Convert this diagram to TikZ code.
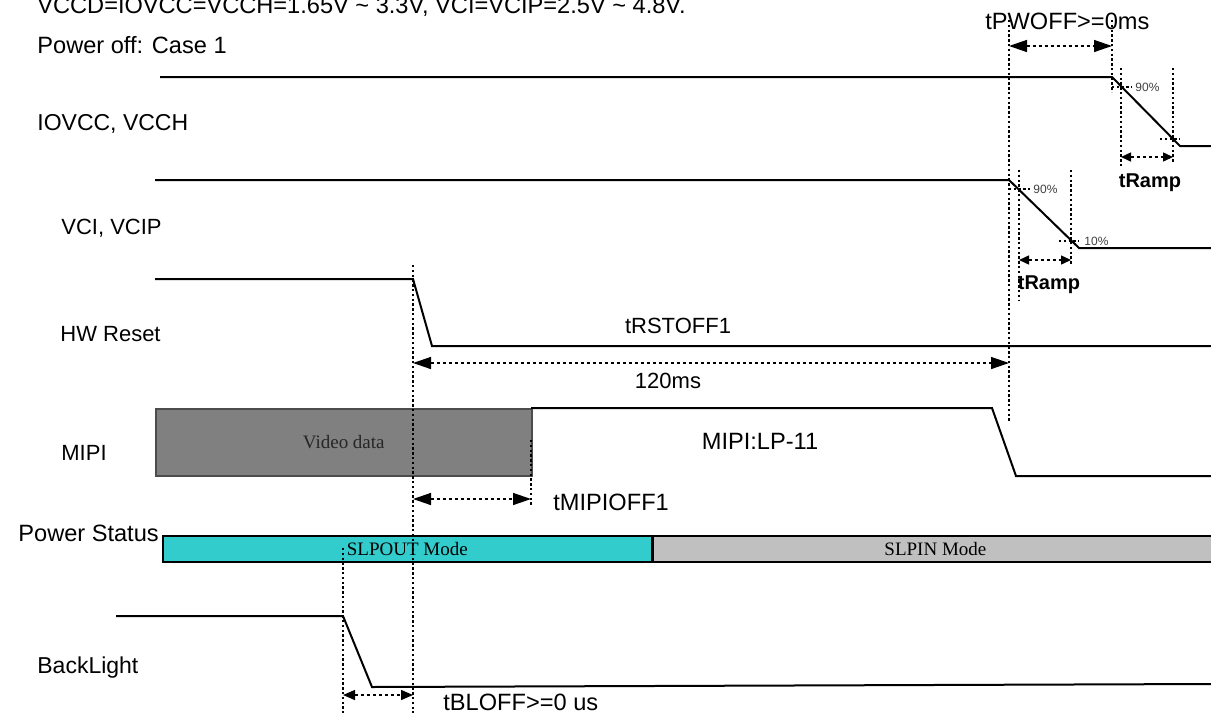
\documentclass[tikz,border=0pt]{standalone}
\usepackage{fontspec}
\setmainfont{Liberation Sans}
\newfontfamily\serifface{Liberation Serif}
\usetikzlibrary{arrows.meta}
\definecolor{slpoutcyan}{HTML}{33CCCC}
\definecolor{slpingray}{HTML}{C0C0C0}
\definecolor{videogray}{HTML}{808080}

\begin{document}
\begin{tikzpicture}[
  x=0.5pt, y=-0.5pt,
  every node/.style={inner sep=0pt, font=\fontsize{11.8}{13}\selectfont},
  wave/.style={line width=1pt},
  guide/.style={line width=0.7pt, dash pattern=on 1.2pt off 1.2pt},
  span/.style={line width=0.7pt, dash pattern=on 1.5pt off 1.5pt, {Triangle[length=9pt,width=6pt]}-{Triangle[length=9pt,width=6pt]}},
  midspan/.style={span, {Triangle[length=6pt,width=5pt]}-{Triangle[length=6pt,width=5pt]}},
  shortspan/.style={span, {Triangle[length=5pt,width=4.5pt]}-{Triangle[length=5pt,width=4.5pt]}},
  siglabel/.style={anchor=base west},
  smalllabel/.style={font=\fontsize{11}{13}\selectfont},
  pct/.style={anchor=west, font=\fontsize{6}{7}\selectfont, text=black!75},
  ramp/.style={font=\fontsize{10}{12}\bfseries\selectfont},
  modebox/.style={draw, line width=0.8pt, anchor=north west, minimum height=13pt, font=\serifface\fontsize{9.5}{11}\selectfont},
  databox/.style={draw=black!70, fill=videogray, line width=0.8pt, anchor=north west, minimum width=188pt, minimum height=33.5pt, font=\serifface\fontsize{9.5}{11}\selectfont, text=black!85}
]
\useasboundingbox (0,0) rectangle (1211,713);

\node[siglabel] (supply) at (37,13) {VCCD=IOVCC=VCCH=1.65V \textasciitilde{} 3.3V, VCI=VCIP=2.5V \textasciitilde{} 4.8V.};
\node[siglabel] (casetitle) at (37,53) {Power off: Case 1};
\node[siglabel, font=\fontsize{11.5}{13}\selectfont] (iovccname) at (37,130) {IOVCC, VCCH};
\node[siglabel, smalllabel] (vciname) at (61,234) {VCI, VCIP};
\node[siglabel, smalllabel] (rstname) at (60,341) {HW Reset};
\node[siglabel, smalllabel] (mipiname) at (61,460) {MIPI};
\node[siglabel] (pwrname) at (18,541) {Power Status};
\node[siglabel, font=\fontsize{11.5}{13}\selectfont] (blname) at (37,673) {BackLight};

\coordinate (iv0) at (160,77);
\coordinate (iv1) at (1112,77);
\coordinate (iv2) at (1180,146);
\coordinate (iv3) at (1211,146);
\coordinate (vc0) at (155,180);
\coordinate (vc1) at (1009,180);
\coordinate (vc2) at (1079,248);
\coordinate (vc3) at (1211,248);
\coordinate (rs0) at (155,279);
\coordinate (rs1) at (413,279);
\coordinate (rs2) at (432,346);
\coordinate (rs3) at (1211,346);
\coordinate (mp0) at (531,408);
\coordinate (mp1) at (992,408);
\coordinate (mp2) at (1016,476);
\coordinate (mp3) at (1211,476);
\coordinate (bl0) at (116,616);
\coordinate (bl1) at (343,616);
\coordinate (bl2) at (372,687);
\coordinate (bl3) at (1211,684);

\draw[wave] (iv0) -- (iv1) -- (iv2) -- (iv3);
\draw[wave] (vc0) -- (vc1) -- (vc2) -- (vc3);
\draw[wave] (rs0) -- (rs1) -- (rs2) -- (rs3);
\node[databox] (video) at (155,408) {Video data};
\draw[wave] (video.north east) -- (mp0) -- (mp1) -- (mp2) -- (mp3);
\draw[wave] (bl0) -- (bl1) -- (bl2) -- (bl3);

\node[modebox, fill=slpoutcyan, minimum width=244.5pt] (slpout) at (162,535) {SLPOUT Mode};
\node[modebox, fill=slpingray, minimum width=282pt] (slpin) at (slpout.north east) {SLPIN Mode};

\draw[guide] (vc1|-0,20) -- (vc1|-0,422);
\draw[guide] (iv1|-0,20) -- (iv1|-0,92);
\draw[guide] (1121,68) -- (1121,167);
\draw[guide] (1173,68) -- (1173,163);
\draw[guide] (1019,170) -- (1019,300);
\draw[guide] (1071,170) -- (1071,265);
\draw[guide] (rs1|-0,265) -- (rs1|-0,713);
\draw[guide] (mp0|-0,440) -- (mp0|-0,506);
\draw[guide] (bl1|-0,548) -- (bl1|-0,713);
\draw[guide] (iv1|-0,87) -- (1132,87);
\draw[guide] (1160,139) -- (1180,139);
\draw[guide] (vc1|-0,189) -- (1030,189);
\draw[guide] (1059,241) -- (1079,241);

\node[pct] (iv90) at (1135,87) {90\%};
\node[pct] (vc90) at (1033,189) {90\%};
\node[pct] (vc10) at (1084,241) {10\%};

\draw[span] (vc1|-0,46) -- (iv1|-0,46);
\node[siglabel] (pwoff) at (985,29) {tPWOFF>=0ms};
\draw[shortspan] (1121,157) -- (1173,157);
\node[ramp] (ramp1) at (1150,183) {tRamp};
\draw[shortspan] (1019,260) -- (1071,260);
\node[ramp] (ramp2) at (1049,285) {tRamp};
\node[smalllabel] (rstoff) at (678,326) {tRSTOFF1};
\draw[span] (rs1|-0,363) -- (vc1|-0,363);
\node[smalllabel] (rstms) at (668,381) {120ms};
\node (lp11) at (760,441) {MIPI:LP-11};
\draw[span] (rs1|-0,499) -- (mp0|-0,499);
\node[anchor=west] (mipioff) at (553,502) {tMIPIOFF1};
\draw[midspan] (bl1|-0,695) -- (rs1|-0,695);
\node[anchor=west] (bloff) at (443,702) {tBLOFF>=0 us};
\end{tikzpicture}
\end{document}
